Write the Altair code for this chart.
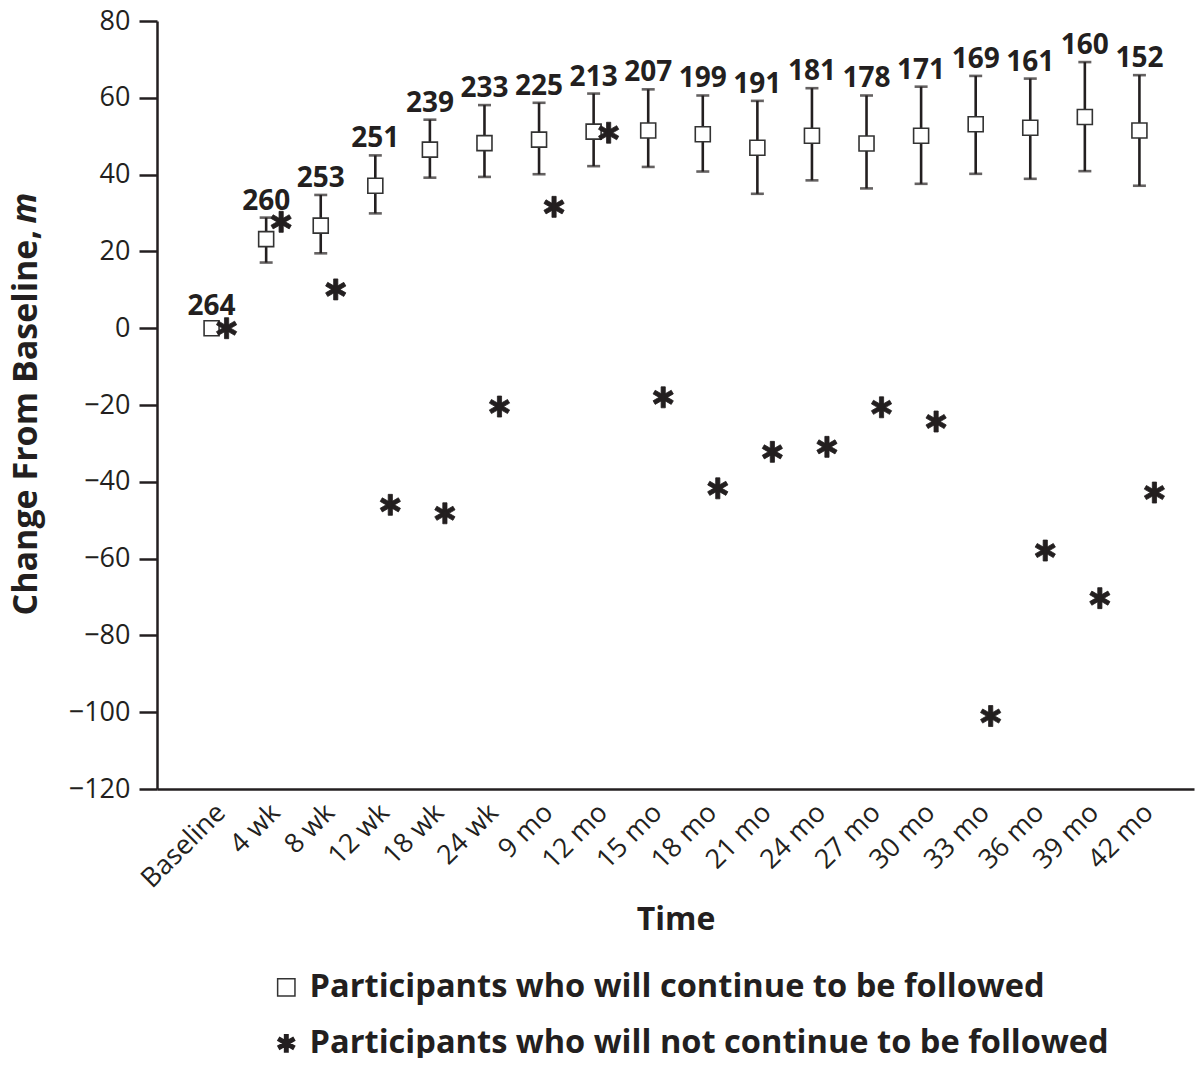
import altair as alt
import pandas as pd

times = ["Baseline", "4 wk", "8 wk", "12 wk", "18 wk", "24 wk", "9 mo", "12 mo", "15 mo",
         "18 mo", "21 mo", "24 mo", "27 mo", "30 mo", "33 mo", "36 mo", "39 mo", "42 mo"]
n_followed = [264, 260, 253, 251, 239, 233, 225, 213, 207, 199, 191, 181, 178, 171, 169, 161, 160, 152]
cont_mean = [0, 23.2, 26.7, 37.1, 46.5, 48.2, 49.1, 51.2, 51.5, 50.5, 47.0, 50.1, 48.1, 50.1, 53.1, 52.2, 55.0, 51.5]
cont_upper = [None, 28.8, 34.7, 45.0, 54.3, 58.1, 58.7, 61.1, 62.2, 60.6, 59.2, 62.5, 60.6, 62.9, 65.7, 65.0, 69.3, 65.9]
cont_lower = [None, 17.1, 19.5, 29.9, 39.2, 39.4, 40.1, 42.2, 42.0, 40.8, 35.0, 38.5, 36.4, 37.6, 40.2, 38.9, 40.9, 37.1]
notcont_mean = [0, 27.7, 10.1, -46.0, -48.2, -20.4, 31.6, 50.9, -18.0, -41.7, -32.2, -30.9, -20.6, -24.3,
                -101.0, -57.9, -70.3, -42.8]

series_names = ["Participants who will continue to be followed",
                "Participants who will not continue to be followed"]
y_title_main = "Change From Baseline,"
y_title_unit = ["m"]

INK = "#231f20"
FONT = "Open Sans"
STAR = ("M-0.2,-1L0.2,-1L0.2,1L-0.2,1Z"
        "M0.766,-0.673L0.966,-0.327L-0.766,0.673L-0.966,0.327Z"
        "M-0.966,-0.327L-0.766,-0.673L0.966,0.327L0.766,0.673Z")

df_cont = pd.DataFrame({"time": times, "n": n_followed, "mean": cont_mean,
                        "upper": cont_upper, "lower": cont_lower})
df_cont["label_y"] = df_cont["upper"].fillna(df_cont["mean"])
df_cont["has_bar"] = df_cont["upper"].notna()

df_pts = pd.concat([
    pd.DataFrame({"time": times, "series": series_names[0], "value": cont_mean}),
    pd.DataFrame({"time": times, "series": series_names[1], "value": notcont_mean}),
], ignore_index=True)

x_enc = alt.X("time:N", sort=times, scale=alt.Scale(type="point", padding=1),
              axis=alt.Axis(title="Time", titleFont=FONT, titleFontSize=32, titleFontWeight="bold",
                            titleColor=INK, titlePadding=12,
                            labelAngle=-45, labelFont=FONT, labelFontSize=27, labelColor=INK,
                            labelPadding=10, ticks=False, domainColor=INK, domainWidth=2.5, grid=False))

y_scale = alt.Scale(domain=[-120, 80], nice=False, zero=False)
y_axis = alt.Axis(values=list(range(-120, 81, 20)), title=y_title_main,
                  titleFont=FONT, titleFontSize=34, titleFontWeight="bold", titleColor=INK,
                  titleX=-121, titleY=594, titleBaseline="alphabetic", titleAlign="left",
                  labelFont=FONT, labelFontSize=27, labelColor=INK, labelPadding=9,
                  tickSize=18, tickWidth=2.5, tickColor=INK, domainColor=INK, domainWidth=2.5,
                  grid=False)

shape_scale = alt.Scale(domain=series_names, range=["square", STAR])
fill_scale = alt.Scale(domain=series_names, range=["white", INK])
stroke_scale = alt.Scale(domain=series_names, range=["#333333", INK])
legend = alt.Legend(orient="none", legendX=113, legendY=950, direction="vertical", title=None,
                    labelFont=FONT, labelFontSize=32.6, labelFontWeight="bold", labelColor=INK,
                    rowPadding=23, labelOffset=7, symbolStrokeWidth=1.5,
                    symbolSize=300, labelLimit=1000)

rules = alt.Chart(df_cont).mark_rule(color=INK, strokeWidth=2.6).encode(
    x=x_enc, y=alt.Y("lower:Q", scale=y_scale, axis=y_axis), y2="upper:Q")
cap_hi = alt.Chart(df_cont).mark_tick(color=INK, thickness=2.6, size=13, orient="horizontal").encode(
    x=x_enc, y=alt.Y("upper:Q", scale=y_scale))
cap_lo = alt.Chart(df_cont).mark_tick(color=INK, thickness=2.6, size=13, orient="horizontal").encode(
    x=x_enc, y=alt.Y("lower:Q", scale=y_scale))

pt_enc = dict(
    x=x_enc,
    y=alt.Y("value:Q", scale=y_scale),
    shape=alt.Shape("series:N", scale=shape_scale, legend=legend),
    fill=alt.Fill("series:N", scale=fill_scale, legend=legend),
    stroke=alt.Stroke("series:N", scale=stroke_scale, legend=legend),
)
squares = alt.Chart(df_pts).transform_filter(
    alt.datum.series == series_names[0]
).mark_point(filled=False, strokeWidth=1.6, size=225, opacity=1, fillOpacity=1).encode(**pt_enc)
stars = alt.Chart(df_pts).transform_filter(
    alt.datum.series == series_names[1]
).mark_point(filled=False, strokeWidth=0.8, size=440, opacity=1, fillOpacity=1,
             xOffset=15).encode(**pt_enc)

label_style = dict(font=FONT, fontSize=28, fontWeight="bold", color=INK, baseline="alphabetic")
labels_bar = alt.Chart(df_cont).transform_filter("datum.has_bar").mark_text(dy=-8, **label_style).encode(
    x=x_enc, y=alt.Y("label_y:Q", scale=y_scale), text="n:N")
labels_nobar = alt.Chart(df_cont).transform_filter("!datum.has_bar").mark_text(dy=-13, **label_style).encode(
    x=x_enc, y=alt.Y("label_y:Q", scale=y_scale), text="n:N")

unit = alt.Chart(pd.DataFrame({"t": y_title_unit})).mark_text(
    font=FONT, fontSize=34, fontWeight="bold", fontStyle="italic", color=INK,
    angle=270, align="center", baseline="alphabetic").encode(
    text="t:N", x=alt.value(-121), y=alt.value(187))

chart = alt.layer(rules, cap_hi, cap_lo, squares, stars, labels_bar, labels_nobar, unit).properties(
    width=1037, height=768,
    padding={"left": 149, "top": 13, "right": 1, "bottom": 269},
    autosize=alt.AutoSizeParams(type="none"),
    background="white",
).configure_view(stroke=None)

chart.save("out.html", embed_options={"renderer": "svg", "actions": False})
